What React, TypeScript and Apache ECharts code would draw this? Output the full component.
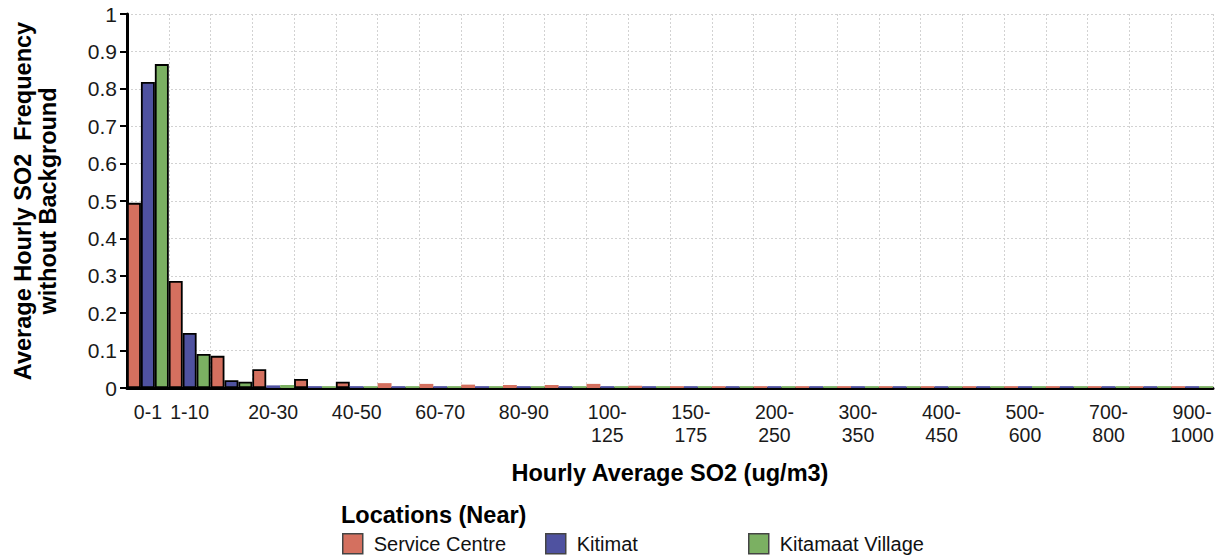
import React, { useEffect, useRef } from "react";
import * as echarts from "echarts";

// SO2 concentration bins (ug/m3)
const bins = [
  "0-1", "1-10", "10-20", "20-30", "30-40", "40-50", "50-60", "60-70", "70-80",
  "80-90", "90-100", "100-125", "125-150", "150-175", "175-200", "200-250",
  "250-300", "300-350", "350-400", "400-450", "450-500", "500-600", "600-700",
  "700-800", "800-900", "900-1000",
];

// Average hourly SO2 frequency (without background) per location
const serviceCentre = [
  0.495, 0.286, 0.086, 0.05, 0.024, 0.017, 0.013, 0.011, 0.009, 0.008, 0.008,
  0.011, 0.006, 0.005, 0.005, 0.005, 0.005, 0.005, 0.005, 0.005, 0.005, 0.005,
  0.005, 0.005, 0.005, 0.005,
];
const kitimat = [
  0.818, 0.147, 0.021, 0.007, 0.005, 0.005, 0.005, 0.005, 0.005, 0.005, 0.005,
  0.005, 0.005, 0.005, 0.005, 0.005, 0.005, 0.005, 0.005, 0.005, 0.005, 0.005,
  0.005, 0.005, 0.005, 0.005,
];
const kitamaatVillage = [
  0.866, 0.091, 0.017, 0.008, 0.005, 0.005, 0.005, 0.005, 0.005, 0.005, 0.005,
  0.005, 0.005, 0.005, 0.005, 0.005, 0.005, 0.005, 0.005, 0.005, 0.005, 0.005,
  0.005, 0.005, 0.005, 0.005,
];

const seriesNames = ["Service Centre", "Kitimat", "Kitamaat Village"];
const seriesColors = ["#d4705f", "#4f52a0", "#7bb062"];
// Legend entries sit in fixed-width columns
const legendLefts = [342, 545, 748];

const FONT = "'Liberation Sans', Arial, Helvetica, sans-serif";

// Outlined bars only where the bar is tall enough to show it
const toBarData = (values: number[]) =>
  values.map((v) => ({
    value: v,
    itemStyle:
      v >= 0.015
        ? { borderColor: "#000", borderWidth: 1.8 }
        : { borderWidth: 0 },
  }));

export default function App() {
  const ref = useRef<HTMLDivElement>(null);

  useEffect(() => {
    if (!ref.current) return;
    const chart = echarts.init(ref.current, undefined, { renderer: "svg" });
    const values = [serviceCentre, kitimat, kitamaatVillage];

    chart.setOption({
      animation: false,
      backgroundColor: "#fff",
      textStyle: { fontFamily: FONT },
      title: {
        text: "Locations (Near)",
        left: 341,
        top: 503,
        padding: 0,
        textStyle: {
          fontFamily: FONT,
          fontSize: 23.5,
          fontWeight: "bold",
          color: "#000",
        },
      },
      legend: seriesNames.map((name, i) => ({
        left: legendLefts[i],
        top: 533,
        padding: 0,
        itemWidth: 20,
        itemHeight: 20,
        icon: "rect",
        itemStyle: { borderColor: "#444", borderWidth: 1.5 },
        textStyle: {
          fontFamily: FONT,
          fontSize: 20,
          color: "#111",
          padding: [0, 0, 0, 6],
        },
        data: [name],
      })),
      grid: {
        left: 127,
        right: 9,
        top: 14,
        bottom: 170,
        containLabel: false,
        outerBoundsMode: "none",
      },
      xAxis: {
        type: "category",
        data: bins,
        name: "Hourly Average SO2 (ug/m3)",
        nameLocation: "middle",
        nameGap: 73,
        nameTextStyle: {
          fontFamily: FONT,
          fontSize: 23.5,
          fontWeight: "bold",
          color: "#000",
        },
        axisLine: { lineStyle: { color: "#000", width: 3 } },
        axisTick: {
          interval: 0,
          length: 7,
          lineStyle: { color: "#000", width: 2 },
        },
        axisLabel: {
          interval: (index: number) => index === 0 || index % 2 === 1,
          margin: 12,
          fontFamily: FONT,
          fontSize: 19.5,
          lineHeight: 23,
          color: "#1a1a1a",
          formatter: (v: string) => (v.length > 6 ? v.replace("-", "-\n") : v),
        },
        splitLine: {
          show: true,
          interval: 0,
          lineStyle: { color: "#d2d2d2", width: 1, type: [2, 2] },
        },
      },
      yAxis: {
        type: "value",
        min: 0,
        max: 1,
        interval: 0.1,
        name: "Average Hourly SO2  Frequency\nwithout Background",
        nameLocation: "middle",
        nameRotate: 90,
        nameGap: 67,
        nameTextStyle: {
          fontFamily: FONT,
          fontSize: 23.5,
          fontWeight: "bold",
          color: "#000",
          lineHeight: 25,
        },
        axisLine: { show: true, lineStyle: { color: "#000", width: 3 } },
        axisTick: { show: true, length: 7, lineStyle: { color: "#000", width: 2 } },
        axisLabel: {
          margin: 10,
          fontFamily: FONT,
          fontSize: 21,
          color: "#1a1a1a",
        },
        splitLine: {
          show: true,
          lineStyle: { color: "#d2d2d2", width: 1, type: [2, 2] },
        },
      },
      series: seriesNames.map((name, i) => ({
        name,
        type: "bar",
        barGap: "0%",
        barCategoryGap: "0%",
        itemStyle: { color: seriesColors[i] },
        emphasis: { disabled: true },
        data: toBarData(values[i]),
      })),
    });

    return () => chart.dispose();
  }, []);

  return (
    <div
      ref={ref}
      style={{ position: "fixed", left: 0, top: 0, width: 1222, height: 558 }}
    />
  );
}
